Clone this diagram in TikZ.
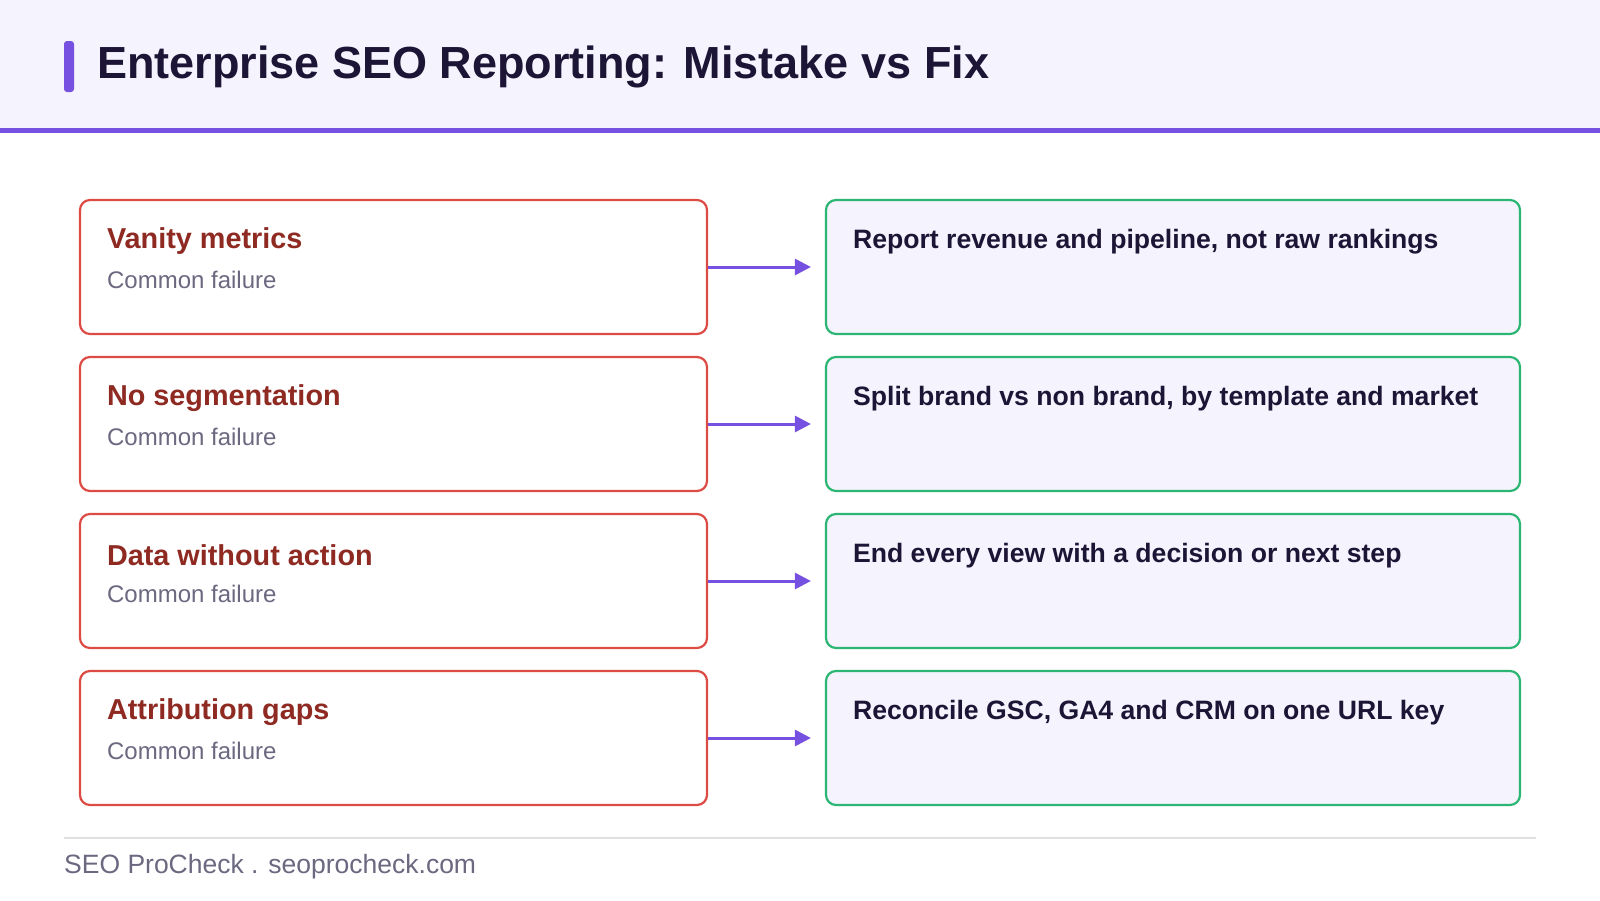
\documentclass[tikz,border=0pt]{standalone}
\usepackage{fontspec}
\setmainfont{Liberation Sans}
\usetikzlibrary{positioning,arrows.meta}
\definecolor{hdrbg}{HTML}{F5F3FD}
\definecolor{accent}{HTML}{7650E0}
\definecolor{badred}{HTML}{DD4B45}
\definecolor{badtxt}{HTML}{8E2A22}
\definecolor{goodgrn}{HTML}{2BB673}
\definecolor{goodbg}{HTML}{F5F3FD}
\definecolor{ink}{HTML}{1C1535}
\definecolor{muted}{HTML}{6B6880}

\begin{document}
\begin{tikzpicture}[
    x=1pt, y=-1pt,
    mistake/.style={draw=badred, line width=2.2pt, fill=white, rounded corners=10pt,
                    minimum width=627pt, minimum height=134pt, inner sep=0pt},
    fix/.style={draw=goodgrn, line width=2.2pt, fill=goodbg, rounded corners=10pt,
                minimum width=694pt, minimum height=134pt, inner sep=0pt},
    head/.style={font=\fontsize{28.8}{33}\selectfont\bfseries, text=badtxt, anchor=west, inner sep=0pt},
    sub/.style={font=\fontsize{24}{28}\selectfont, text=muted, anchor=west, inner sep=0pt},
    fixtxt/.style={font=\fontsize{26.6}{31}\selectfont\bfseries, text=ink, anchor=west, inner sep=0pt},
    arrow/.style={-{Triangle[length=16pt,width=16pt]}, line width=3pt, draw=accent},
  ]
  \useasboundingbox (0,0) rectangle (1600,900);
  \fill[white] (0,0) rectangle (1600,900);

  % Header
  \fill[hdrbg] (0,0) rectangle (1600,130);
  \fill[accent] (0,128) rectangle (1600,133);
  \fill[accent, rounded corners=3pt] (64,41) rectangle (74,92);
  \node[anchor=west, inner sep=0pt, text=ink, font=\fontsize{45}{51}\selectfont\bfseries]
    (title) at (97,67) {Enterprise SEO Reporting: Mistake vs Fix};

  % Rows
  \foreach \i/\bad/\good in {
      0/Vanity metrics/{Report revenue and pipeline, not raw rankings},
      1/No segmentation/{Split brand vs non brand, by template and market},
      2/Data without action/{End every view with a decision or next step},
      3/Attribution gaps/{Reconcile GSC, GA4 and CRM on one URL key}} {
    \pgfmathsetmacro{\yc}{267+157*\i}
    \node[mistake] (m\i) at (393.5,\yc) {};
    \node[fix] (f\i) at (1173,\yc) {};
    \node[head] (mh\i) at ([xshift=28pt,yshift=26pt]m\i.west) {\bad};
    \node[sub] (ms\i) at ([xshift=28pt,yshift=-13pt]m\i.west) {Common failure};
    \node[fixtxt] (ft\i) at ([xshift=28pt,yshift=25pt]f\i.west) {\good};
    \draw[arrow] (m\i.east) -- ([xshift=-14pt]f\i.west);
  }

  % Footer
  \draw[draw=black!12, line width=1.5pt] (64,838) -- (1536,838);
  \node[anchor=west, inner sep=0pt, text=muted, font=\fontsize{26.5}{30}\selectfont]
    (foot) at (64,867) {SEO ProCheck . seoprocheck.com};
\end{tikzpicture}
\end{document}
